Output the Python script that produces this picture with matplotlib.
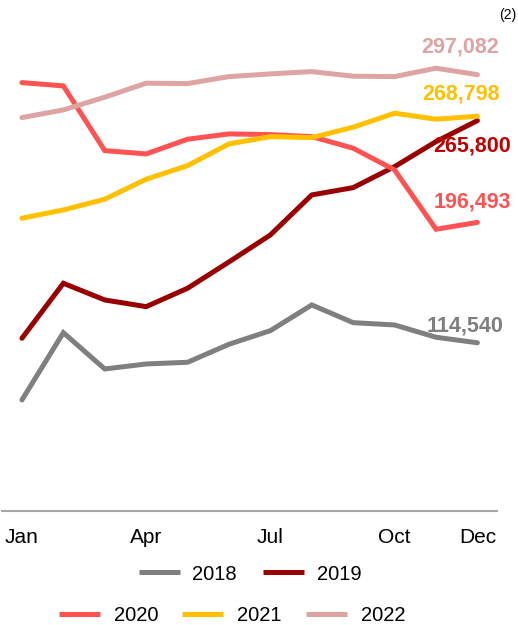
import matplotlib
matplotlib.use("Agg")
import matplotlib.pyplot as plt
from matplotlib.lines import Line2D

plt.rcParams["font.family"] = ["Liberation Sans", "DejaVu Sans"]

meses = ["Jan", "Feb", "Mar", "Apr", "May", "Jun", "Jul", "Aug", "Sep", "Oct", "Nov", "Dec"]
rotulos_meses = ["Jan", "Apr", "Jul", "Oct", "Dec"]

anos = ["2018", "2019", "2020", "2021", "2022"]
v2018 = [75590, 121420, 96700, 100110, 101260, 113520, 122780, 140290, 128230, 126670, 118290, 114540]
v2019 = [117610, 155060, 143690, 139130, 151660, 169570, 187960, 215200, 220170, 234470, 251490, 265800]
v2020 = [291680, 289430, 245370, 243120, 253130, 256740, 256260, 254900, 247000, 232220, 191840, 196493]
v2021 = [199330, 204980, 212270, 225890, 235150, 249930, 254900, 254220, 261300, 270830, 266750, 268798]
v2022 = [267840, 273080, 281730, 291260, 291000, 295760, 297600, 299160, 296030, 295760, 301480, 297082]

series = [v2018, v2019, v2020, v2021, v2022]
cores = ["#7f7f7f", "#990000", "#ff5252", "#ffc000", "#dea4a4"]
cores_rotulo = ["#7f7f7f", "#c00000", "#ff5252", "#ffc000", "#dea4a4"]
# deslocamento do rotulo final, em pixels a partir do ponto de Dec
desloc = [(26, 17), (34, -25), (34, 20), (22, 22), (22, 28)]

fig = plt.figure(figsize=(5.18, 6.25), dpi=100)
ax = fig.add_axes([0.004, 0.1824, 0.956, 0.752])

x = list(range(len(meses)))
for ano, vals, cor in zip(anos, series, cores):
    ax.plot(x, vals, color=cor, lw=3.6, solid_capstyle="round", solid_joinstyle="miter", label=ano)

for vals, cor, (dx, dy) in zip(series, cores_rotulo, desloc):
    ax.annotate(f"{vals[-1]:,}", xy=(x[-1], vals[-1]), xytext=(dx, dy),
                textcoords="offset pixels", ha="right", va="center",
                fontsize=15.5, fontweight="bold", color=cor)

ax.set_xlim(-0.48, 11.48)
ax.set_ylim(0, 320000)
ax.set_xticks([meses.index(m) for m in rotulos_meses])
ax.set_xticklabels(rotulos_meses, fontsize=15)
ax.tick_params(axis="x", length=0, pad=12)
ax.set_yticks([])
for s in ["top", "right", "left"]:
    ax.spines[s].set_visible(False)
ax.spines["bottom"].set_color("#a6a6a6")
ax.spines["bottom"].set_linewidth(1.5)

# legenda com pontas retas
alcas = [Line2D([], [], color=c, lw=3.6, solid_capstyle="butt") for c in cores]

fig.legend(alcas[:2], anos[:2], loc="center", bbox_to_anchor=(0.483, 0.0816),
           ncol=2, frameon=False, fontsize=14.5, handlelength=2.03,
           handletextpad=0.63, columnspacing=1.3)
fig.legend(alcas[2:], anos[2:], loc="center", bbox_to_anchor=(0.448, 0.015),
           ncol=3, frameon=False, fontsize=14.5, handlelength=2.03,
           handletextpad=0.7, columnspacing=1.2)

fig.text(0.996, 0.976, "(2)", ha="right", va="center", fontsize=10)

fig.savefig("out.png", dpi=100)
